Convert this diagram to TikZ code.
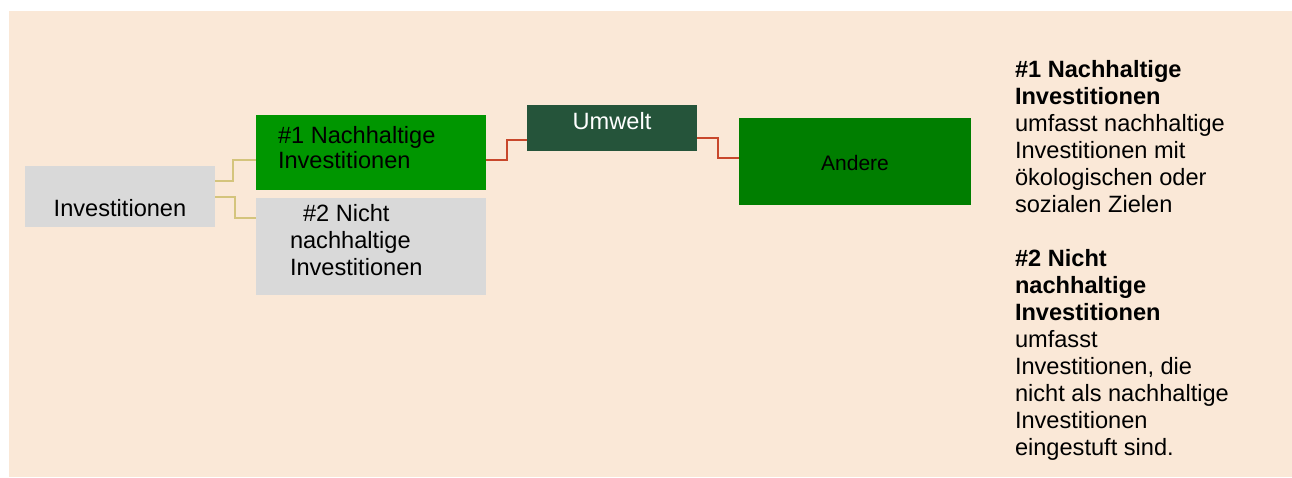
\documentclass[tikz,border=0pt]{standalone}
\usepackage{fontspec}
\setmainfont{Liberation Sans}
\definecolor{bgc}{HTML}{FAE8D7}
\definecolor{greyc}{HTML}{D9D9D9}
\definecolor{greenA}{HTML}{009600}
\definecolor{greenB}{HTML}{007E00}
\definecolor{darkg}{HTML}{25543A}
\definecolor{tanc}{HTML}{D4C47C}
\definecolor{redc}{HTML}{C8472B}
\begin{document}
\begin{tikzpicture}[x=1pt,y=-1pt,
  box/.style={inner sep=0pt, outer sep=0pt, anchor=north west},
  txt/.style={font=\fontsize{23.6}{27}\selectfont, inner sep=0pt, outer sep=0pt},
  conA/.style={draw=tanc, line width=2pt},
  conB/.style={draw=redc, line width=2pt}]
\useasboundingbox (0,0) rectangle (1292,477);
\fill[bgc] (9,11) rectangle (1292,477);
% boxes
\node[box, txt, fill=greyc, minimum width=190pt, minimum height=61pt, text height=39pt, text depth=0pt] (inv) at (25,166) {Investitionen};
\node[box, fill=greenA, minimum width=230pt, minimum height=75pt] (n1) at (256,115) {};
\node[box, fill=greyc, minimum width=230pt, minimum height=97pt] (n2) at (256,198) {};
\node[box, txt, fill=darkg, text=white, minimum width=170pt, minimum height=46pt, text height=17pt, text depth=15pt] (um) at (527,105) {Umwelt};
\node[box, fill=greenB, minimum width=232pt, minimum height=87pt, font=\fontsize{21}{25}\selectfont, text height=17pt, text depth=0pt] (an) at (739,118) {Andere};
% texts in boxes
\node[txt, anchor=north west, align=left, font=\fontsize{23.6}{25}\selectfont] (n1t) at (278,126.5) {\#1 Nachhaltige\\Investitionen};
\node[txt, anchor=north west, align=left, font=\fontsize{23.6}{26.7}\selectfont] (n2t) at (290,204.8) {\hspace*{13pt}\#2 Nicht\\nachhaltige\\Investitionen};
% connectors
\draw[conA] ([yshift=15.5pt]inv.east) -- ++(18,0) |- ([yshift=-7.5pt]n1.west);
\draw[conA] ([yshift=-0.5pt]inv.east) -- ++(20,0) |- ([yshift=28.5pt]n2.west);
\draw[conB] ([yshift=-7.5pt]n1.east) -- ++(21,0) |- ([yshift=-12pt]um.west);
\draw[conB] ([yshift=-10pt]um.east) -- ++(21,0) |- ([yshift=3.5pt]an.west);
% legend
\node[txt, anchor=north west, align=left] (legend) at (1015,60.6) {%
\textbf{\#1 Nachhaltige}\\
\textbf{Investitionen}\\
umfasst nachhaltige\\
Investitionen mit\\
ökologischen oder\\
sozialen Zielen\\[27pt]
\textbf{\#2 Nicht}\\
\textbf{nachhaltige}\\
\textbf{Investitionen}\\
umfasst\\
Investitionen, die\\
nicht als nachhaltige\\
Investitionen\\
eingestuft sind.};
\end{tikzpicture}
\end{document}
